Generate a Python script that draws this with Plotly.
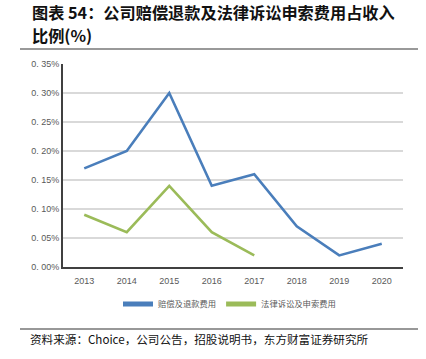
import plotly.graph_objects as go

years = ["2013", "2014", "2015", "2016", "2017", "2018", "2019", "2020"]
refund = [0.17, 0.20, 0.30, 0.14, 0.16, 0.07, 0.02, 0.04]
legal_years = ["2013", "2014", "2015", "2016", "2017"]
legal = [0.09, 0.06, 0.14, 0.06, 0.02]
y_ticks = [0, 0.05, 0.10, 0.15, 0.20, 0.25, 0.30, 0.35]
y_labels = ["0. 00%", "0. 05%", "0. 10%", "0. 15%", "0. 20%", "0. 25%", "0. 30%", "0. 35%"]

W, H = 426, 359
L, R, T, B = 63, 23, 64, 92
PW, PH = W - L - R, H - T - B


def px(x):
    return (x - L) / PW


def py(y):
    return (H - B - y) / PH


fig = go.Figure()
fig.add_trace(go.Scatter(x=years, y=refund, mode="lines", name="赔偿及退款费用",
                         line=dict(color="#4A7EBB", width=2.6)))
fig.add_trace(go.Scatter(x=legal_years, y=legal, mode="lines", name="法律诉讼及申索费用",
                         line=dict(color="#9BBB59", width=2.6)))

font_cjk = "Noto Sans CJK SC"
tick_font = "Liberation Sans Narrow, Arial Narrow, Liberation Sans"

fig.update_layout(
    template="none",
    width=W, height=H,
    margin=dict(l=L, r=R, t=T, b=B, autoexpand=False),
    paper_bgcolor="white", plot_bgcolor="white",
    font=dict(family=font_cjk, color="#595959"),
    showlegend=True,
    legend=dict(orientation="h", x=px(118), xanchor="left", y=py(304), yanchor="middle",
                font=dict(size=8.3, color="#595959"),
                tracegroupgap=0, itemsizing="constant", itemwidth=30),
    xaxis=dict(type="category", range=[-0.5, 7.5], showgrid=False,
               showline=True, linecolor="#404040", linewidth=2,
               ticks="", automargin=False, ticklabelstandoff=4,
               tickfont=dict(size=9, color="#595959", family=tick_font),
               fixedrange=True),
    yaxis=dict(range=[0, 0.35], tickvals=y_ticks, ticktext=y_labels,
               showgrid=True, gridcolor="#D9D9D9", gridwidth=1.5,
               showline=True, linecolor="#404040", linewidth=2,
               zeroline=False, ticks="", automargin=False,
               tickfont=dict(size=9, color="#595959", family=tick_font),
               fixedrange=True),
    shapes=[
        dict(type="line", xref="paper", yref="paper",
             x0=px(20), x1=px(418), y0=py(49), y1=py(49),
             line=dict(color="#999999", width=2)),
        dict(type="line", xref="paper", yref="paper",
             x0=px(20), x1=px(418), y0=py(329), y1=py(329),
             line=dict(color="#333333", width=1.2)),
    ],
    annotations=[
        dict(text="<b>图表 54：公司赔偿退款及法律诉讼申索费用占收入</b>", xref="paper", yref="paper",
             x=px(30), y=py(12), xanchor="left", yanchor="middle", showarrow=False,
             font=dict(size=16.2, color="#111111", family=font_cjk)),
        dict(text="<b>比例(%)</b>", xref="paper", yref="paper",
             x=px(30), y=py(35), xanchor="left", yanchor="middle", showarrow=False,
             font=dict(size=16.2, color="#111111", family=font_cjk)),
        dict(text="资料来源：Choice，公司公告，招股说明书，东方财富证券研究所", xref="paper", yref="paper",
             x=px(28), y=py(339), xanchor="left", yanchor="middle", showarrow=False,
             font=dict(size=11.6, color="#111111", family=font_cjk)),
    ],
)

fig.write_html("out.html", post_script="document.body.style.margin='0';",
               config={"displayModeBar": False})
